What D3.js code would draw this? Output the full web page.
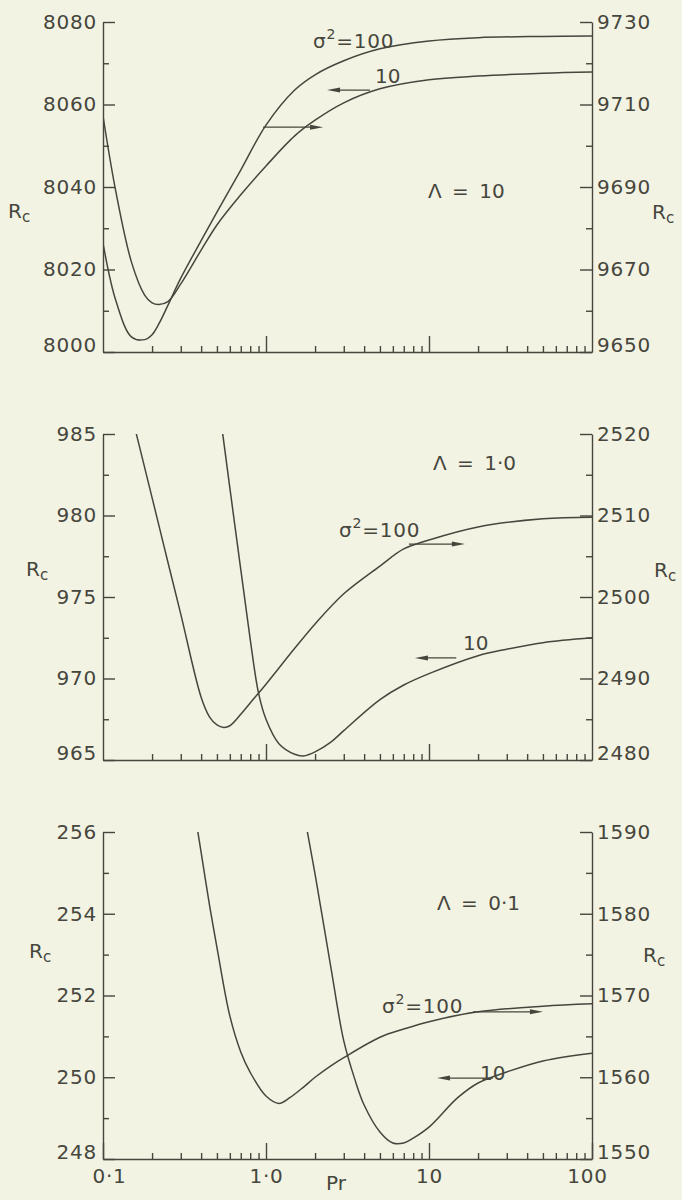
<!DOCTYPE html>
<html>
<head>
<meta charset="utf-8">
<script src="https://cdn.jsdelivr.net/npm/d3@7/dist/d3.min.js"></script>
<style>
  body { margin: 0; background: #f2f3e3; }
  svg { display: block; }
  text { font-family: "DejaVu Sans", sans-serif; fill: #46463d; }
  .axis path, .axis line { stroke: #46463d; stroke-width: 1.4; }
</style>
</head>
<body>
<svg id="chart"></svg>
<script>
const width = 682;
const height = 1200;
const plotLeft = 103;
const plotRight = 592;
const ink = "#46463d";

// x axis (Pr, log)
const prMajor = [0.1, 1, 10, 100];
const prMajorLabels = ["0·1", "1·0", "10", "100"];
const prMinor = [0.2, 0.3, 0.4, 0.5, 0.6, 0.7, 0.8, 0.9,
                 2, 3, 4, 5, 6, 7, 8, 9,
                 20, 30, 40, 50, 60, 70, 80, 90];

// Λ = 10
const leftTicks10 = [8000, 8020, 8040, 8060, 8080];
const leftMinor10 = [8010, 8030, 8050, 8070];
const rightTicks10 = [9650, 9670, 9690, 9710, 9730];
const rightMinor10 = [9660, 9680, 9700, 9720];
const pr10 = [0.1, 0.12, 0.15, 0.18, 0.2, 0.22, 0.25, 0.3, 0.4, 0.5, 0.7, 1, 1.5, 2, 3, 5, 10, 20, 50, 100];
const rc10_s10 = [8057.2, 8038.8, 8021.6, 8013.8, 8011.9, 8011.5, 8012.2, 8016.5, 8024.7, 8030.8, 8038.1, 8045.1, 8052.4, 8056.2, 8060.4, 8063.8, 8066.0, 8066.9, 8067.6, 8067.9];
const rc10_s100 = [9676.4, 9662.4, 9653.6, 9653.0, 9654.2, 9656.8, 9661.3, 9667.9, 9677.0, 9683.9, 9694.1, 9705.0, 9713.5, 9717.2, 9720.6, 9723.5, 9725.4, 9726.2, 9726.5, 9726.6];

// Λ = 1·0
const leftTicks1 = [965, 970, 975, 980, 985];
const leftMinor1 = [967.5, 972.5, 977.5, 982.5];
const rightTicks1 = [2480, 2490, 2500, 2510, 2520];
const rightMinor1 = [2485, 2495, 2505, 2515];
const pr1_s100 = [0.15, 0.18, 0.2, 0.25, 0.3, 0.4, 0.45, 0.5, 0.55, 0.6, 0.7, 0.8, 1, 1.5, 2, 3, 5, 7, 10, 20, 50, 100];
const rc1_s100 = [2522.3, 2515.9, 2512.2, 2504.3, 2497.9, 2487.7, 2485.3, 2484.3, 2484.0, 2484.2, 2485.6, 2487.0, 2489.3, 2493.7, 2496.7, 2500.4, 2503.8, 2505.9, 2507.0, 2508.6, 2509.6, 2509.8];
const pr1_s10 = [0.52, 0.6, 0.7, 0.8, 0.9, 1, 1.2, 1.5, 1.7, 2, 2.5, 3, 5, 7, 10, 20, 30, 50, 100];
const rc1_s10 = [986.4, 981.7, 976.7, 972.4, 969.1, 967.5, 966.0, 965.35, 965.25, 965.5, 966.1, 966.8, 968.7, 969.6, 970.3, 971.4, 971.8, 972.2, 972.5];

// Λ = 0·1
const leftTicks01 = [248, 250, 252, 254, 256];
const leftMinor01 = [249, 251, 253, 255];
const rightTicks01 = [1550, 1560, 1570, 1580, 1590];
const rightMinor01 = [1555, 1565, 1575, 1585];
const pr01_s100 = [0.37, 0.4, 0.45, 0.5, 0.6, 0.7, 0.8, 1, 1.2, 1.4, 1.7, 2, 2.5, 3, 5, 7, 10, 20, 50, 100];
const rc01_s100 = [1591.7, 1587.5, 1581.1, 1575.9, 1567.5, 1563.1, 1560.6, 1557.7, 1556.8, 1557.5, 1558.8, 1560.0, 1561.4, 1562.4, 1564.9, 1565.9, 1566.8, 1568.0, 1568.7, 1569.0];
const pr01_s10 = [1.7, 1.8, 2, 2.5, 3, 3.5, 4, 5, 6, 7, 8, 10, 15, 20, 30, 50, 100];
const rc01_s10 = [256.5, 255.97, 254.97, 252.69, 250.89, 249.96, 249.32, 248.66, 248.39, 248.39, 248.51, 248.78, 249.5, 249.86, 250.13, 250.4, 250.59];

const zip = (xs, ys) => xs.map((p, i) => ({pr: p, rc: ys[i]}));

const panels = [
  {
    top: 22, bottom: 352,
    left: {ticks: leftTicks10, minor: leftMinor10},
    right: {ticks: rightTicks10, minor: rightMinor10},
    curves: [
      {side: "left", data: zip(pr10, rc10_s10)},
      {side: "right", data: zip(pr10, rc10_s100)}
    ],
    arrows: [
      {side: "right", from: 0.96, to: 2.24, rc: 9704.5},
      {side: "left", from: 4.34, to: 2.37, rc: 8063.5}
    ],
    lambda: {text: "Λ = 10", x: 428, y: 198},
    sigma: {x: 313, y: 48},
    ten: {x: 375, y: 83},
    rcLeft: {x: 8, y: 218},
    rcRight: {x: 652, y: 219},
    xLabels: false
  },
  {
    top: 434, bottom: 760,
    left: {ticks: leftTicks1, minor: leftMinor1},
    right: {ticks: rightTicks1, minor: rightMinor1},
    curves: [
      {side: "right", data: zip(pr1_s100, rc1_s100)},
      {side: "left", data: zip(pr1_s10, rc1_s10)}
    ],
    arrows: [
      {side: "right", from: 7.53, to: 16.6, rc: 2506.5},
      {side: "left", from: 14.7, to: 8.2, rc: 971.26}
    ],
    lambda: {text: "Λ = 1·0", x: 433, y: 470},
    sigma: {x: 339, y: 537},
    ten: {x: 463, y: 650},
    rcLeft: {x: 26, y: 576},
    rcRight: {x: 654, y: 577},
    xLabels: false
  },
  {
    top: 832, bottom: 1159,
    left: {ticks: leftTicks01, minor: leftMinor01},
    right: {ticks: rightTicks01, minor: rightMinor01},
    curves: [
      {side: "right", data: zip(pr01_s100, rc01_s100)},
      {side: "left", data: zip(pr01_s10, rc01_s10)}
    ],
    arrows: [
      {side: "right", from: 18.6, to: 50, rc: 1568.0},
      {side: "left", from: 24.7, to: 11.2, rc: 249.98}
    ],
    lambda: {text: "Λ = 0·1", x: 437, y: 910},
    sigma: {x: 382, y: 1013},
    ten: {x: 480, y: 1080},
    rcLeft: {x: 29, y: 958},
    rcRight: {x: 643, y: 962},
    xLabels: true
  }
];

const svg = d3.select("#chart")
  .attr("width", width)
  .attr("height", height);

svg.append("rect")
  .attr("width", width).attr("height", height)
  .attr("fill", "#f2f3e3");

const xScale = d3.scaleLog()
  .domain([0.1, 100])
  .range([plotLeft, plotRight]);

const drawRc = (x, y) => {
  const t = svg.append("text").attr("x", x).attr("y", y).attr("font-size", 20);
  t.append("tspan").text("R");
  t.append("tspan").attr("font-size", 15).attr("dy", 4).text("c");
};

const drawArrow = (x1, x2, y) => {
  const dir = x2 > x1 ? 1 : -1;
  svg.append("line")
    .attr("x1", x1).attr("x2", x2 - dir * 8)
    .attr("y1", y).attr("y2", y)
    .attr("stroke", ink).attr("stroke-width", 1.3);
  svg.append("path")
    .attr("d", `M${x2},${y} L${x2 - dir * 13},${y - 2.5} L${x2 - dir * 13},${y + 2.5} Z`)
    .attr("fill", ink);
};

// bottom tick label sits on the axis line, the others are centred
const liftBottomLabel = (g, lowest) => {
  g.selectAll(".tick text")
    .filter(d => d === lowest)
    .attr("dy", "-0.02em");
};

panels.forEach((p, i) => {
  const yLeft = d3.scaleLinear()
    .domain(d3.extent(p.left.ticks))
    .range([p.bottom, p.top]);
  const yRight = d3.scaleLinear()
    .domain(d3.extent(p.right.ticks))
    .range([p.bottom, p.top]);
  const yOf = side => side === "left" ? yLeft : yRight;

  // left axis
  const gL = svg.append("g").attr("class", "axis")
    .attr("transform", `translate(${plotLeft},0)`)
    .call(d3.axisLeft(yLeft).tickValues(p.left.ticks)
      .tickFormat(d3.format("d"))
      .tickSizeInner(-12).tickSizeOuter(0).tickPadding(6));
  liftBottomLabel(gL, p.left.ticks[0]);
  svg.append("g").attr("class", "axis")
    .attr("transform", `translate(${plotLeft},0)`)
    .call(d3.axisLeft(yLeft).tickValues(p.left.minor)
      .tickSizeInner(-6).tickSizeOuter(0).tickFormat(""))
    .select(".domain").remove();

  // right axis
  const gR = svg.append("g").attr("class", "axis")
    .attr("transform", `translate(${plotRight},0)`)
    .call(d3.axisRight(yRight).tickValues(p.right.ticks)
      .tickFormat(d3.format("d"))
      .tickSizeInner(-12).tickSizeOuter(0).tickPadding(5));
  liftBottomLabel(gR, p.right.ticks[0]);
  svg.append("g").attr("class", "axis")
    .attr("transform", `translate(${plotRight},0)`)
    .call(d3.axisRight(yRight).tickValues(p.right.minor)
      .tickSizeInner(-6).tickSizeOuter(0).tickFormat(""))
    .select(".domain").remove();

  // bottom axis
  const gX = svg.append("g").attr("class", "axis")
    .attr("transform", `translate(0,${p.bottom})`)
    .call(d3.axisBottom(xScale)
      .tickValues(p.xLabels ? prMajor : [1, 10])
      .tickFormat((d, k) => p.xLabels ? prMajorLabels[k] : "")
      .tickSizeInner(-16).tickSizeOuter(0).tickPadding(10));
  gX.selectAll(".tick text")
    .attr("dx", d => d === 0.1 ? 6 : d === 100 ? -5 : 0);
  svg.append("g").attr("class", "axis")
    .attr("transform", `translate(0,${p.bottom})`)
    .call(d3.axisBottom(xScale).tickValues(prMinor)
      .tickSizeInner(-6).tickSizeOuter(0).tickFormat(""))
    .select(".domain").remove();

  // curves
  const clipId = "clip" + i;
  svg.append("clipPath").attr("id", clipId)
    .append("rect")
    .attr("x", plotLeft).attr("y", p.top)
    .attr("width", plotRight - plotLeft).attr("height", p.bottom - p.top);

  p.curves.forEach(c => {
    const y = yOf(c.side);
    const line = d3.line()
      .x(d => xScale(d.pr))
      .y(d => y(d.rc))
      .curve(d3.curveCatmullRom.alpha(0.5));
    svg.append("path")
      .datum(c.data)
      .attr("clip-path", `url(#${clipId})`)
      .attr("fill", "none")
      .attr("stroke", ink)
      .attr("stroke-width", 1.5)
      .attr("d", line);
  });

  // arrows
  p.arrows.forEach(a => {
    const y = yOf(a.side)(a.rc);
    drawArrow(xScale(a.from), xScale(a.to), y);
  });

  // labels
  svg.append("text")
    .attr("x", p.lambda.x).attr("y", p.lambda.y)
    .attr("font-size", 20)
    .attr("word-spacing", 4)
    .text(p.lambda.text);

  const s = svg.append("text")
    .attr("x", p.sigma.x).attr("y", p.sigma.y)
    .attr("font-size", 20)
    .attr("letter-spacing", 0.8);
  s.append("tspan").text("σ");
  s.append("tspan").attr("font-size", 14).attr("dy", -9).text("2");
  s.append("tspan").attr("dy", 9).text("=100");

  svg.append("text")
    .attr("x", p.ten.x).attr("y", p.ten.y)
    .attr("font-size", 20)
    .text("10");

  drawRc(p.rcLeft.x, p.rcLeft.y);
  drawRc(p.rcRight.x, p.rcRight.y);
});

svg.selectAll(".axis text")
  .attr("font-size", 20)
  .attr("letter-spacing", 0.8)
  .attr("fill", ink)
  .attr("font-family", "DejaVu Sans, sans-serif");

// Pr label
svg.append("text")
  .attr("x", 336).attr("y", 1190)
  .attr("text-anchor", "middle")
  .attr("font-size", 20)
  .text("Pr");
</script>
</body>
</html>
